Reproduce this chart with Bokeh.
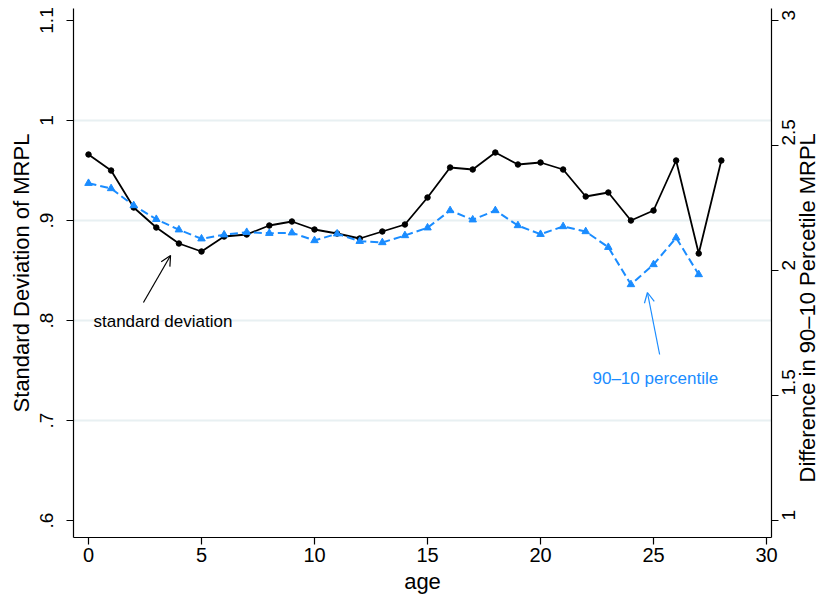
import math
from bokeh.plotting import figure
from bokeh.models import Range1d, LinearAxis, FixedTicker, Arrow, OpenHead, Label
from bokeh.embed import file_html
from bokeh.resources import INLINE

# ---- data ----
ages_sd = list(range(0, 29))
sd_values = [0.966, 0.950, 0.913, 0.893, 0.877, 0.869, 0.884, 0.886, 0.895, 0.899,
             0.891, 0.887, 0.882, 0.889, 0.896, 0.923, 0.953, 0.951, 0.968, 0.956,
             0.958, 0.951, 0.924, 0.928, 0.900, 0.910, 0.960, 0.867, 0.960]
ages_pct = list(range(0, 28))
pct_values = [2.349, 2.328, 2.260, 2.205, 2.163, 2.127, 2.143, 2.153, 2.149, 2.151,
              2.120, 2.147, 2.117, 2.112, 2.140, 2.171, 2.240, 2.203, 2.240, 2.180,
              2.145, 2.176, 2.156, 2.093, 1.944, 2.024, 2.131, 1.984]
x_ticks = [0, 5, 10, 15, 20, 25, 30]
left_ticks = [0.6, 0.7, 0.8, 0.9, 1.0, 1.1]
left_tick_labels = [".6", ".7", ".8", ".9", "1", "1.1"]
right_ticks = [1, 1.5, 2, 2.5, 3]
right_tick_labels = ["1", "1.5", "2", "2.5", "3"]
grid_ticks = [0.7, 0.8, 0.9, 1.0]

BLUE = "#1a8cff"
FONT = "Liberation Sans"

p = figure(width=835, height=597, output_backend="svg", toolbar_location=None,
           x_range=Range1d(-0.664, 30.22), y_range=Range1d(0.583, 1.112),
           min_border_left=73, min_border_right=53, min_border_top=8, min_border_bottom=60)
p.outline_line_color = None
p.background_fill_color = "white"
p.border_fill_color = "white"
p.extra_y_ranges = {"pct": Range1d(0.932, 3.048)}

# grid
p.xgrid.visible = False
p.ygrid.ticker = FixedTicker(ticks=grid_ticks)
p.ygrid.grid_line_color = "#e8f0f2"
p.ygrid.grid_line_width = 2

def style_axis(ax, size="19px"):
    ax.axis_line_color = "black"
    ax.axis_line_width = 1.2
    ax.major_tick_line_color = "black"
    ax.major_tick_line_width = 1.2
    ax.major_tick_out = 7
    ax.major_tick_in = 0
    ax.minor_tick_line_color = None
    ax.major_label_text_font = FONT
    ax.major_label_text_font_size = size
    ax.major_label_text_color = "black"
    ax.axis_label_text_font = FONT
    ax.axis_label_text_font_style = "normal"
    ax.axis_label_text_color = "black"

# x axis
xa = p.xaxis[0]
xa.ticker = FixedTicker(ticks=x_ticks)
style_axis(xa, "20px")
xa.axis_label = "age"
xa.axis_label_text_font_size = "22px"
xa.major_label_standoff = 3
xa.axis_label_standoff = 4

# left axis
ya = p.yaxis[0]
ya.ticker = FixedTicker(ticks=left_ticks)
ya.major_label_overrides = {t: l for t, l in zip(left_ticks, left_tick_labels)}
style_axis(ya)
ya.major_label_orientation = "vertical"
ya.major_label_standoff = 14
ya.axis_label = "Standard Deviation of MRPL"
ya.axis_label_text_font_size = "22px"
ya.axis_label_standoff = 3

# right axis
ra = LinearAxis(y_range_name="pct")
ra.ticker = FixedTicker(ticks=right_ticks)
ra.major_label_overrides = {t: l for t, l in zip(right_ticks, right_tick_labels)}
style_axis(ra)
ra.major_label_orientation = math.pi / 2
ra.major_label_standoff = 10
ra.axis_label = "\u00a0" * 9 + "Difference in 90\u201310 Percetile MRPL"
ra.axis_label_text_font_size = "22px"
ra.axis_label_standoff = 3
ra.axis_label_orientation = math.pi / 2
ra.axis_label_align = "start"
p.add_layout(ra, "right")

# series
p.line(ages_sd, sd_values, line_color="black", line_width=1.8)
p.scatter(ages_sd, sd_values, size=5.5, color="black")
p.line(ages_pct, pct_values, y_range_name="pct", line_color=BLUE, line_width=2, line_dash="8 4")
p.scatter(ages_pct, pct_values, y_range_name="pct", marker="triangle", size=7.5, color=BLUE)

# annotations
p.add_layout(Label(x=0.22, y=0.799, text="standard deviation", text_baseline="middle",
                   text_font=FONT, text_font_size="17px", text_color="black"))
p.add_layout(Arrow(end=OpenHead(size=10, line_width=1.2, line_color="black"),
                   x_start=2.43, y_start=0.818, x_end=3.63, y_end=0.865,
                   line_width=1.2, line_color="black"))
p.add_layout(Label(x=22.3, y=1.569, y_range_name="pct", text="90\u201310 percentile",
                   text_baseline="middle", text_font=FONT, text_font_size="17px",
                   text_color=BLUE))
p.add_layout(Arrow(end=OpenHead(size=10, line_width=1.2, line_color=BLUE),
                   x_start=25.27, y_start=1.664, x_end=24.73, y_end=1.912,
                   y_range_name="pct", line_width=1.2, line_color=BLUE))

open("out.html", "w").write(file_html(p, INLINE))
